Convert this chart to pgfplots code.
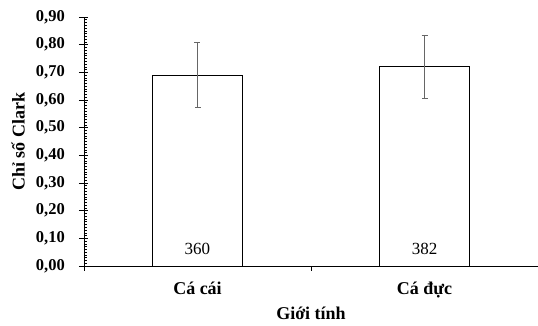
\documentclass[border=0pt]{standalone}
\usepackage{pgfplots}
\pgfplotsset{compat=1.18}
\usepackage{fontspec}
\setmainfont{Liberation Serif}
\begin{document}
\begin{tikzpicture}
\begin{axis}[
  scale only axis, width=454pt, height=249pt,
  xmin=-0.5, xmax=1.5, ymin=0, ymax=0.9,
  axis x line=bottom, axis y line=left,
  axis line style={-, line width=0.9pt, black},
  clip=false,
  xtick={0,1}, xticklabels={Cá cái, Cá đực},
  ytick={0,0.1,0.2,0.3,0.4,0.5,0.6,0.7,0.8,0.9},
  minor y tick num=9,
  tick align=inside,
  major tick length=4pt, minor tick length=3.5pt,
  tick style={black, line width=0.6pt},
  extra x ticks={-0.5,0.5,1.5}, extra x tick labels={},
  extra x tick style={tick align=outside, major tick length=4.5pt},
  extra y ticks={0,0.1,0.2,0.3,0.4,0.5,0.6,0.7,0.8,0.9}, extra y tick labels={},
  extra y tick style={tick align=outside, major tick length=5pt},
  yticklabel style={font=\bfseries\fontsize{16.5}{16.5}\selectfont, anchor=east, inner sep=0pt, xshift=-19pt,
    /pgf/number format/fixed, /pgf/number format/fixed zerofill, /pgf/number format/precision=2,
    /pgf/number format/use comma, /pgf/number format/assume math mode=true},
  xticklabel style={font=\bfseries\fontsize{18}{18}\selectfont, anchor=base, yshift=-28pt},
  ylabel={Chỉ số Clark},
  ylabel style={font=\bfseries\fontsize{18}{18}\selectfont, at={(axis description cs:-0.145,0.5)}, anchor=center},
  xlabel={Giới tính},
  xlabel style={font=\bfseries\fontsize{18}{18}\selectfont, at={(axis description cs:0.5,-0.213)}, anchor=base},
]
\addplot[ybar, bar width=0.4, fill=white, draw=black, line width=0.9pt,
  error bars/.cd, y dir=both, y explicit,
  error bar style={black!60, line width=0.9pt},
  error mark options={rotate=90, mark size=3pt, line width=0.9pt, draw=black!60}]
  coordinates {(0,0.69) +- (0,0.117) (1,0.72) +- (0,0.115)};
\node[font=\fontsize{17}{17}\selectfont, anchor=base] at (axis cs:0,0.04) {360};
\node[font=\fontsize{17}{17}\selectfont, anchor=base] at (axis cs:1,0.04) {382};
\coordinate (O) at (rel axis cs:0,0);
\end{axis}
\pgfresetboundingbox
\path[use as bounding box] ([shift={(-84pt,-59pt)}]O) rectangle ([shift={(454pt,266pt)}]O);
\end{tikzpicture}
\end{document}
